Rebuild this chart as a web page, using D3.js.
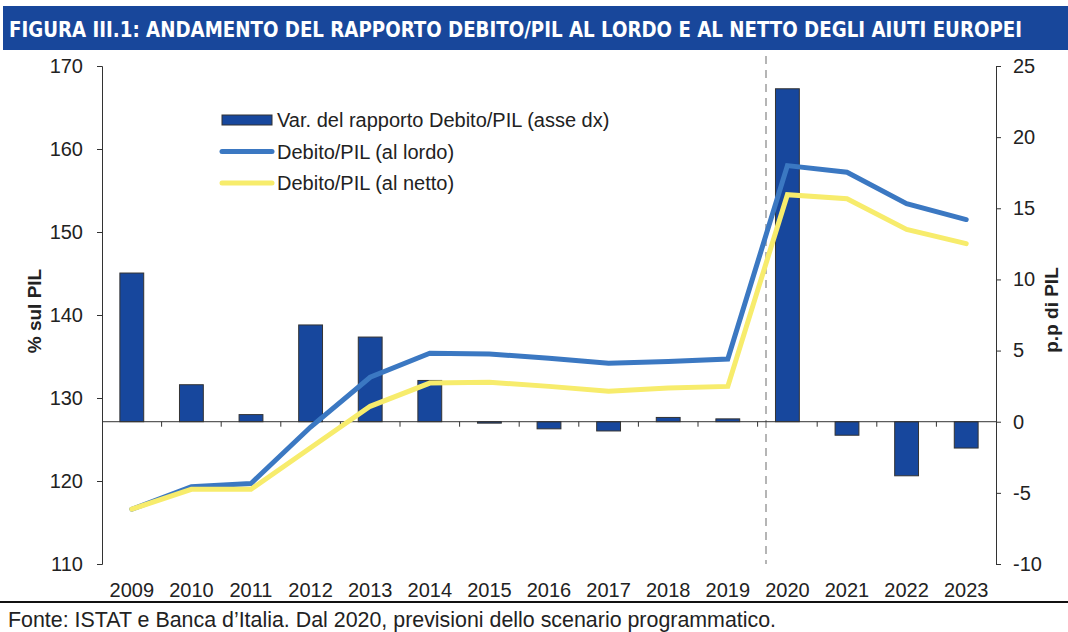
<!DOCTYPE html>
<html>
<head>
<meta charset="utf-8">
<script src="https://cdn.jsdelivr.net/npm/d3@7"></script>
<style>
  body { margin: 0; background: #fff; }
  svg text { font-family: "Liberation Sans", Arial, sans-serif; fill: #222; }
</style>
</head>
<body>
<svg id="chart"></svg>
<script>
// years on the x axis
var years = ["2009", "2010", "2011", "2012", "2013", "2014", "2015", "2016", "2017", "2018", "2019", "2020", "2021", "2022", "2023"];

// change of debt/GDP ratio, p.p. (right axis)
var variazione = [10.45, 2.6, 0.5, 6.8, 5.95, 2.9, -0.1, -0.5, -0.65, 0.3, 0.2, 23.4, -0.95, -3.8, -1.85];

// debt/GDP gross of european aid (left axis)
var lordo = [116.6, 119.3, 119.7, 126.5, 132.5, 135.4, 135.3, 134.8, 134.2, 134.4, 134.7, 158.0, 157.2, 153.4, 151.5];

// debt/GDP net of european aid (left axis)
var netto = [116.6, 119.0, 119.0, 124.0, 129.0, 131.8, 131.9, 131.4, 130.8, 131.2, 131.4, 154.5, 154.0, 150.3, 148.6];

var leftTicks = [110, 120, 130, 140, 150, 160, 170];
var rightTicks = [-10, -5, 0, 5, 10, 15, 20, 25];

var titolo = "FIGURA III.1: ANDAMENTO DEL RAPPORTO DEBITO/PIL AL LORDO E AL NETTO DEGLI AIUTI EUROPEI";
var fonte = "Fonte: ISTAT e Banca d\u2019Italia. Dal 2020, previsioni dello scenario programmatico.";
var legendLabels = ["Var. del rapporto Debito/PIL (asse dx)", "Debito/PIL (al lordo)", "Debito/PIL (al netto)"];

var W = 1068, H = 632;
var pLeft = 102, pRight = 996, pTop = 66, pBottom = 564;

var barColor = "#17479d", lordoColor = "#3b78c2", nettoColor = "#f7ec6c";

var svg = d3.select("#chart")
			.attr("width", W)
			.attr("height", H);

// title bar
svg.append("rect")
	.attr("x", 3).attr("y", 6)
	.attr("width", W - 3).attr("height", 44)
	.attr("fill", "#18479b");
svg.append("text")
	.text(titolo)
	.attr("x", 9).attr("y", 37)
	.attr("textLength", 1013)
	.attr("lengthAdjust", "spacingAndGlyphs")
	.style("font-family", "'Liberation Sans Narrow', 'DejaVu Sans Condensed', sans-serif")
	.style("font-weight", "bold")
	.style("font-size", "22px")
	.style("fill", "#fff");

var x = d3.scaleBand().domain(years).range([pLeft, pRight]).paddingInner(0.6).paddingOuter(0.3);
var yL = d3.scaleLinear().domain([110, 170]).range([pBottom, pTop]);
var yR = d3.scaleLinear().domain([-10, 25]).range([pBottom, pTop]);

// dashed separator for forecasts
svg.append("line")
	.attr("x1", 766).attr("x2", 766)
	.attr("y1", 56).attr("y2", pBottom)
	.attr("stroke", "#b5b5b5")
	.attr("stroke-width", 2)
	.attr("stroke-dasharray", "8,6");

// bars
svg.append("g").selectAll("rect")
	.data(variazione)
	.join("rect")
	.attr("x", (d, i) => x(years[i]))
	.attr("width", x.bandwidth())
	.attr("y", d => yR(Math.max(0, d)))
	.attr("height", d => Math.abs(yR(d) - yR(0)))
	.attr("fill", barColor)
	.attr("stroke", "#333")
	.attr("stroke-width", 1);

// zero line and category ticks
svg.append("line")
	.attr("x1", pLeft).attr("x2", pRight)
	.attr("y1", yR(0)).attr("y2", yR(0))
	.attr("stroke", "#333");
var step = x.step();
for (let i = 1; i < years.length; i++) {
	let bx = pLeft + step * i;
	svg.append("line")
		.attr("x1", bx).attr("x2", bx)
		.attr("y1", yR(0)).attr("y2", yR(0) + 5)
		.attr("stroke", "#333");
}

// lines
var lineGen = d3.line()
	.x((d, i) => x(years[i]) + x.bandwidth() / 2)
	.y(d => yL(d));

svg.append("path")
	.datum(lordo)
	.attr("d", lineGen)
	.attr("fill", "none")
	.attr("stroke", lordoColor)
	.attr("stroke-width", 5)
	.attr("stroke-linecap", "round");
svg.append("path")
	.datum(netto)
	.attr("d", lineGen)
	.attr("fill", "none")
	.attr("stroke", nettoColor)
	.attr("stroke-width", 5)
	.attr("stroke-linecap", "round");

// axes
var axL = svg.append("g")
	.attr("transform", "translate(" + pLeft + ",0)")
	.call(d3.axisLeft(yL).tickValues(leftTicks).tickSize(5).tickPadding(14).tickFormat(d => String(d)));
var axR = svg.append("g")
	.attr("transform", "translate(" + pRight + ",0)")
	.call(d3.axisRight(yR).tickValues(rightTicks).tickSize(5).tickPadding(12).tickFormat(d => String(d)));
[axL, axR].forEach(ax => {
	ax.selectAll("path, line").attr("stroke", "#333");
	ax.selectAll("text")
		.style("font-family", "'Liberation Sans', Arial, sans-serif")
		.style("font-size", "20px")
		.attr("fill", "#222");
});

// year labels
svg.append("g").selectAll("text")
	.data(years)
	.join("text")
	.text(d => d)
	.attr("x", d => x(d) + x.bandwidth() / 2)
	.attr("y", 597)
	.attr("text-anchor", "middle")
	.style("font-size", "20px");

// axis titles
svg.append("text")
	.text("% sul PIL")
	.attr("transform", "translate(41,311) rotate(-90)")
	.attr("text-anchor", "middle")
	.style("font-weight", "bold")
	.style("font-size", "19px");
svg.append("text")
	.text("p.p di PIL")
	.attr("transform", "translate(1058,310) rotate(-90)")
	.attr("text-anchor", "middle")
	.style("font-weight", "bold")
	.style("font-size", "19px");

// legend
var lg = svg.append("g");
legendLabels.forEach((lab, i) => {
	let ly = 120 + i * 31.5;
	if (i === 0) {
		lg.append("rect")
			.attr("x", 222).attr("y", ly - 5)
			.attr("width", 50).attr("height", 10)
			.attr("fill", barColor).attr("stroke", "#333");
	} else {
		lg.append("line")
			.attr("x1", 222).attr("x2", 272)
			.attr("y1", ly).attr("y2", ly)
			.attr("stroke", i === 1 ? lordoColor : nettoColor)
			.attr("stroke-width", 5)
			.attr("stroke-linecap", "round");
	}
	lg.append("text")
		.text(lab)
		.attr("x", 277).attr("y", ly + 7)
		.style("font-size", "20px");
});

// source line
svg.append("line")
	.attr("x1", 0).attr("x2", W)
	.attr("y1", 602).attr("y2", 602)
	.attr("stroke", "#111")
	.attr("stroke-width", 2);
svg.append("text")
	.text(fonte)
	.attr("x", 8).attr("y", 627)
	.style("font-size", "21.4px");
</script>
</body>
</html>
